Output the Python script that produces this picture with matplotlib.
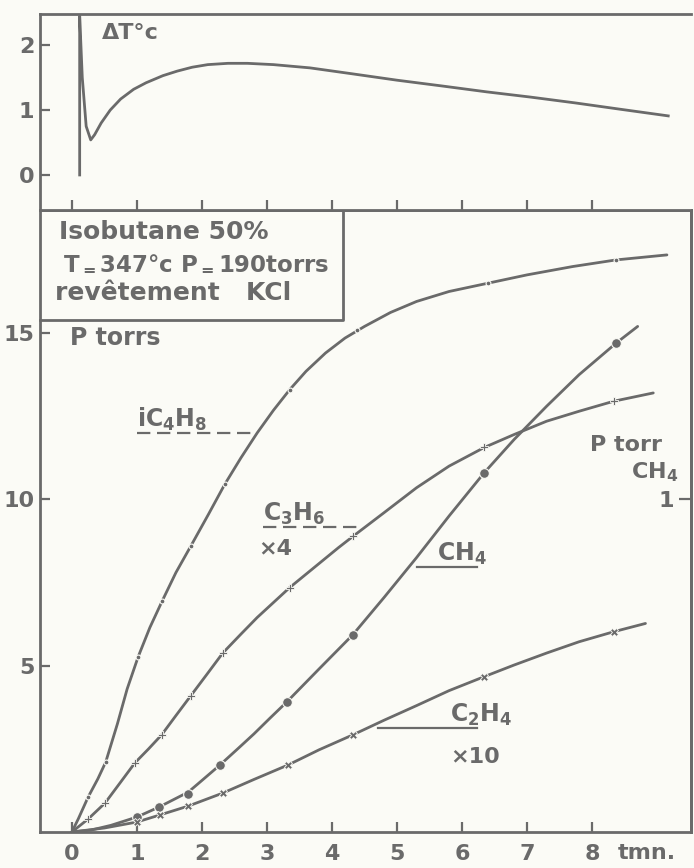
import matplotlib
matplotlib.use('Agg')
import matplotlib.pyplot as plt

# temperature rise during the run
dt_t = [0.12, 0.12, 0.16, 0.22, 0.29, 0.35, 0.45, 0.59, 0.75, 0.95, 1.14, 1.4, 1.62, 1.85, 2.09, 2.4,
        2.7, 3.1, 3.66, 4.3, 5.0, 5.7, 6.38, 7.05, 7.74, 8.45, 9.17]
dt_v = [0.0, 2.45, 1.50, 0.75, 0.54, 0.62, 0.80, 1.00, 1.17, 1.32, 1.42, 1.53, 1.60, 1.66, 1.70, 1.72,
        1.72, 1.70, 1.65, 1.56, 1.46, 1.37, 1.28, 1.20, 1.11, 1.01, 0.91]

# isobutene
ic4_t = [0, 0.1, 0.25, 0.4, 0.52, 0.7, 0.85, 1.02, 1.2, 1.39, 1.6, 1.83, 2.1, 2.35, 2.6, 2.85, 3.1,
         3.35, 3.6, 3.9, 4.2, 4.5, 4.9, 5.3, 5.8, 6.4, 7.0, 7.7, 8.37, 9.15]
ic4_p = [0, 0.4, 1.05, 1.6, 2.1, 3.25, 4.3, 5.27, 6.15, 6.95, 7.8, 8.6, 9.55, 10.45, 11.25, 12.0, 12.68,
         13.3, 13.85, 14.4, 14.85, 15.2, 15.62, 15.95, 16.25, 16.5, 16.75, 17.0, 17.2, 17.35]
ic4_mt = [0.25, 0.52, 1.02, 1.39, 1.83, 2.35, 3.35, 4.38, 6.4, 8.37]
ic4_mp = [1.05, 2.10, 5.27, 6.95, 8.6, 10.45, 13.3, 15.1, 16.5, 17.2]

# propene (x4)
c3_t = [0, 0.25, 0.51, 0.75, 0.97, 1.18, 1.38, 1.6, 1.83, 2.08, 2.32, 2.6, 2.85, 3.1, 3.35, 3.6, 3.85,
        4.1, 4.33, 4.8, 5.3, 5.8, 6.34, 6.8, 7.3, 7.8, 8.33, 8.94]
c3_p = [0, 0.39, 0.87, 1.5, 2.08, 2.5, 2.92, 3.5, 4.1, 4.75, 5.38, 5.95, 6.45, 6.9, 7.35, 7.75, 8.15,
        8.55, 8.9, 9.6, 10.35, 11.0, 11.56, 11.95, 12.35, 12.65, 12.95, 13.2]
c3_mt = [0.25, 0.51, 0.97, 1.38, 1.83, 2.32, 3.35, 4.33, 6.34, 8.33]
c3_mp = [0.39, 0.87, 2.08, 2.92, 4.10, 5.38, 7.35, 8.90, 11.56, 12.95]

# methane
ch4_t = [0, 0.3, 0.6, 1.0, 1.34, 1.79, 2.0, 2.28, 2.55, 2.8, 3.05, 3.31, 3.8, 4.32, 4.8, 5.3, 5.8,
         6.34, 6.8, 7.3, 7.8, 8.37, 8.7]
ch4_p = [0, 0.06, 0.2, 0.45, 0.75, 1.2, 1.55, 2.02, 2.5, 2.95, 3.43, 3.92, 4.9, 5.93, 7.05, 8.25, 9.5,
         10.8, 11.8, 12.8, 13.75, 14.7, 15.2]
ch4_mt = [1.0, 1.34, 1.79, 2.28, 3.31, 4.32, 6.34, 8.37]
ch4_mp = [0.45, 0.75, 1.15, 2.02, 3.92, 5.93, 10.8, 14.7]

# ethylene (x10)
c2_t = [0, 0.5, 1.0, 1.35, 1.79, 2.32, 2.8, 3.33, 3.8, 4.32, 4.8, 5.3, 5.8, 6.34, 6.8, 7.3, 7.8, 8.33, 8.82]
c2_p = [0, 0.12, 0.30, 0.51, 0.78, 1.17, 1.58, 2.02, 2.47, 2.92, 3.36, 3.8, 4.25, 4.67, 5.02, 5.38,
        5.72, 6.02, 6.27]
c2_mt = [1.0, 1.35, 1.79, 2.32, 3.33, 4.32, 6.34, 8.33]
c2_mp = [0.30, 0.51, 0.78, 1.17, 2.02, 2.92, 4.67, 6.02]

x_ticks = [0, 1, 2, 3, 4, 5, 6, 7, 8]
p_ticks = [5, 10, 15]
dt_ticks = [0, 1, 2]

ink = '#6a6a6a'
paper = '#fbfbf6'
W, H = 694, 868

plt.rcParams['font.family'] = 'DejaVu Sans'
plt.rcParams['font.weight'] = 'bold'

fig = plt.figure(figsize=(W / 100, H / 100), dpi=100, facecolor=paper)


def px_axes(left, top, right, bottom):
    return fig.add_axes([left / W, 1 - bottom / H, (right - left) / W, (bottom - top) / H])


ax = px_axes(40, 210, 691, 832)
axt = px_axes(40, 14, 691, 210)

for a in (ax, axt):
    a.set_facecolor(paper)
    a.set_xlim(-0.49, 9.52)
    for s in a.spines.values():
        s.set_color(ink)
        s.set_linewidth(2)
    a.tick_params(colors=ink, direction='in', width=1.6, length=7, labelsize=16)

# top panel
axt.set_ylim(-0.54, 2.48)
axt.spines['right'].set_visible(False)
axt.plot(dt_t, dt_v, color=ink, lw=2)
axt.set_yticks(dt_ticks)
axt.set_xticks(x_ticks)
axt.tick_params(axis='x', labelbottom=False)
axt.tick_params(axis='y', pad=4)
axt.text(0.46, 2.18, 'ΔT°c', color=ink, fontsize=16, va='center')

# bottom panel
ax.set_ylim(0, 18.7)
ax.set_xticks(x_ticks)
ax.set_yticks(p_ticks)
ax.tick_params(axis='x', pad=9)
ax.tick_params(axis='y', pad=4)

line_kw = dict(color=ink, lw=2, solid_capstyle='round', solid_joinstyle='round')
ax.plot(ic4_t, ic4_p, **line_kw)
ax.plot(c3_t, c3_p, **line_kw)
ax.plot(ch4_t, ch4_p, **line_kw)
ax.plot(c2_t, c2_p, **line_kw)
ax.plot(ic4_mt, ic4_mp, 'o', color=ink, ms=3.5, mec=paper, mew=0.8)
ax.plot(c3_mt, c3_mp, 'P', color=ink, ms=6, mec=paper, mew=0.6)
ax.plot(ch4_mt, ch4_mp, 'o', color=ink, ms=7, mec=paper, mew=0.8)
ax.plot(c2_mt, c2_mp, 'X', color=ink, ms=6, mec=paper, mew=0.6)

# conditions box in the upper left corner
ax.plot([-0.49, 4.17, 4.17, -0.49], [18.7, 18.7, 15.39, 15.39], color=ink, lw=2, clip_on=False)
ax.text(-0.2, 18.05, 'Isobutane 50%', color=ink, fontsize=18, va='center')
ax.text(-0.14, 17.1, 'T$_{=}$347°c P$_{=}$190torrs', color=ink, fontsize=16.5, va='center')
ax.text(-0.26, 16.2, 'revêtement   KCl', color=ink, fontsize=18, va='center')

ax.text(-0.03, 14.85, 'P torrs', color=ink, fontsize=17, va='center')

# curve labels with their leader lines
lab_kw = dict(color=ink, fontsize=17, va='bottom')
ax.text(1.0, 12.0, r'iC$_4$H$_8$', **lab_kw)
ax.plot([1.0, 2.78], [12.0, 12.0], color=ink, lw=1.6, ls=(0, (6, 3)))
ax.text(2.94, 9.17, r'C$_3$H$_6$', **lab_kw)
ax.plot([2.94, 4.4], [9.17, 9.17], color=ink, lw=1.6, ls=(0, (6, 3)))
ax.text(2.86, 8.5, '×4', color=ink, fontsize=16, va='center')
ax.text(5.62, 7.97, r'CH$_4$', **lab_kw)
ax.plot([5.31, 6.23], [7.97, 7.97], color=ink, lw=1.6)
ax.text(5.82, 3.13, r'C$_2$H$_4$', **lab_kw)
ax.plot([4.71, 6.23], [3.13, 3.13], color=ink, lw=1.6)
ax.text(5.82, 2.25, '×10', color=ink, fontsize=16, va='center')

# methane pressure scale on the right
sec = ax.secondary_yaxis('right', functions=(lambda y: y / 10, lambda y: y * 10))
sec.spines['right'].set_color(ink)
sec.spines['right'].set_linewidth(2)
sec.set_yticks([1])
sec.tick_params(colors=ink, direction='in', width=1.6, length=9, labelsize=16, pad=-12)
for lbl in sec.get_yticklabels():
    lbl.set_ha('right')
ax.text(7.97, 11.63, 'P torr', color=ink, fontsize=16, va='center')
ax.text(8.6, 10.82, r'CH$_4$', color=ink, fontsize=16, va='center')

fig.text(618 / W, 1 - 853 / H, 'tmn.', color=ink, fontsize=16, va='center')

fig.savefig('out.png', dpi=100, facecolor=paper)
